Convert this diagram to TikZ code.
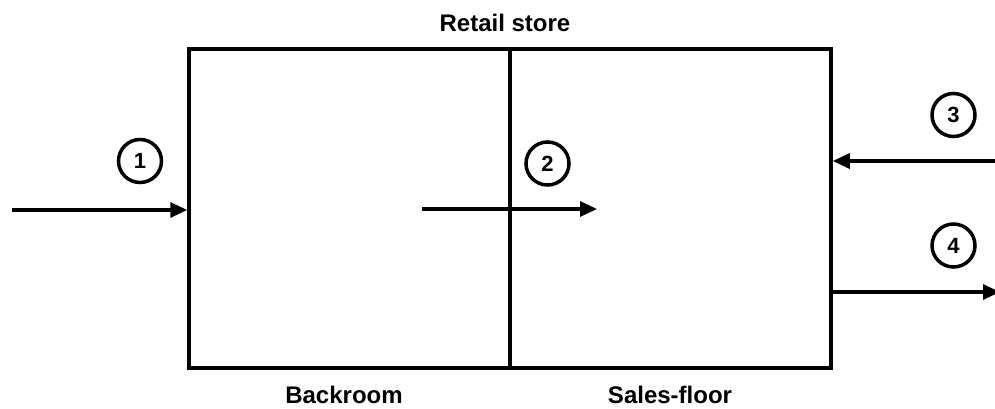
\documentclass[tikz,border=0pt]{standalone}
\usepackage{fontspec}
\setmainfont{Liberation Sans}
\usetikzlibrary{arrows.meta,shadows}
\tikzset{
  room/.style={draw, line width=3.5pt, minimum width=321pt, minimum height=319pt, inner sep=0pt,
    drop shadow={opacity=0.25, shadow xshift=1.5pt, shadow yshift=-1.5pt}, fill=white},
  num/.style={circle, draw, line width=3.5pt, minimum size=43pt, inner sep=0pt, font=\bfseries\fontsize{22}{24}\selectfont,
    drop shadow={opacity=0.25, shadow xshift=1.5pt, shadow yshift=-1.5pt}, fill=white},
  lbl/.style={font=\bfseries\fontsize{24}{28}\selectfont, inner sep=0pt, anchor=base},
  flow/.style={line width=3.2pt, -{Triangle[length=17pt,width=15pt]}}
}
\begin{document}
\begin{tikzpicture}[x=1pt,y=-1pt]
\useasboundingbox (0,0) rectangle (995,409);
\node[room] (back) at (349.5,208.5) {};
\node[room] (sales) at (670.5,208.5) {};
\node[lbl] (title) at (505,32) {Retail store};
\node[lbl] (lb) at (344,403) {Backroom};
\node[lbl] (ls) at (670,403) {Sales-floor};
\node[num] (n1) at (140,161) {1};
\node[num] (n2) at (547.5,163.5) {2};
\node[num] (n3) at (953.5,115) {3};
\node[num] (n4) at (953.5,245.5) {4};
\coordinate (s1) at (12,210);
\coordinate (s2) at (422,209);
\coordinate (e2) at (597,209);
\coordinate (s3) at (997,161);
\coordinate (e4) at (1000,292);
\draw[flow] (s1) -- (s1 -| back.west);
\draw[flow] (s2) -- (e2);
\draw[flow] (s3) -- (s3 -| sales.east);
\draw[flow] (e4 -| sales.east) -- (e4);
\end{tikzpicture}
\end{document}
